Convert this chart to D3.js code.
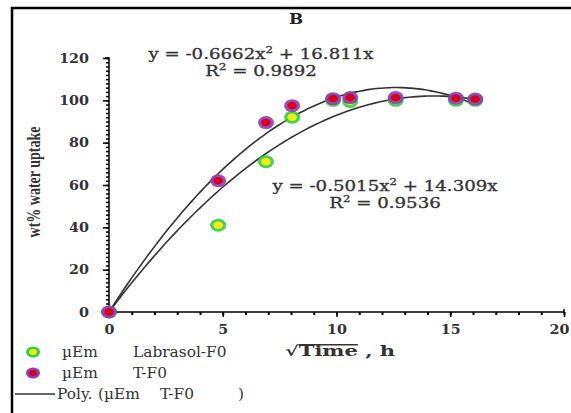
<!DOCTYPE html>
<html><head><meta charset="utf-8">
<script src="https://cdn.jsdelivr.net/npm/d3@7/dist/d3.min.js"></script>
<style>body{margin:0;background:#fff}svg{display:block}</style>
</head><body><svg id="c" width="571" height="413"></svg>
<script>
const sqrtTime = [0, 4.8, 6.9, 8.05, 9.85, 10.6, 12.6, 15.25, 16.1];
const labrasol = [0, 41, 71, 92, 100, 99.5, 100, 100, 100];
const tf0 = [0, 62, 89.5, 97.5, 100.8, 101.3, 101.3, 101, 100.6];
const fitT = [-0.6662, 16.811];   // y = a x^2 + b x
const fitL = [-0.5015, 14.309];
const xTicks = [0, 5, 10, 15, 20];
const yTicks = [0, 20, 40, 60, 80, 100, 120];

const svg = d3.select("#c");
const serif = "'DejaVu Serif','Liberation Serif',serif";
function stretch(sel, s){
  sel.each(function(){
    const t = d3.select(this);
    const x = +t.attr("x")||0, y = +t.attr("y")||0;
    t.attr("x",0).attr("y",0).attr("transform",`translate(${x},${y}) scale(${s},1)`);
  });
}
// frame
svg.append("path").attr("d","M12,420 L12,8 L580,8").attr("fill","none").attr("stroke","#000").attr("stroke-width",2.5);

const x = d3.scaleLinear().domain([0,20]).range([109,564]);
const y = d3.scaleLinear().domain([0,120]).range([312,58]);

// y axis
const ya = svg.append("g").attr("transform","translate(109,0)");
ya.call(d3.axisLeft(y).tickValues(d3.range(0,121,2)).tickSize(3).tickFormat(""));
ya.call(g=>g.select(".domain").remove());
ya.selectAll("line").attr("stroke","#000").attr("stroke-width",1.5);
const yb = svg.append("g").attr("transform","translate(109,0)");
yb.call(d3.axisLeft(y).tickValues(yTicks).tickSize(6).tickPadding(14).tickFormat(d3.format("d")));
yb.selectAll("text").attr("font-family",serif).attr("font-size",13).attr("font-weight","bold").attr("fill","#333");
stretch(yb.selectAll("text"), 1.1);
yb.selectAll("line,path").attr("stroke","#000").attr("stroke-width",1.5);
yb.select(".domain").attr("d","M-4,58H0V312");

// x axis
const xa = svg.append("g").attr("transform","translate(0,312)");
xa.call(d3.axisBottom(x).tickValues(d3.range(0,21,1)).tickSize(3).tickFormat(""));
xa.call(g=>g.select(".domain").remove());
xa.selectAll("line").attr("stroke","#000").attr("stroke-width",2);
const xb = svg.append("g").attr("transform","translate(0,312)");
xb.call(d3.axisBottom(x).tickValues(xTicks).tickSize(5).tickPadding(8).tickFormat(d3.format("d")));
xb.selectAll("text").attr("font-family",serif).attr("font-size",13).attr("font-weight","bold").attr("fill","#333")
  .attr("x", d => d === 20 ? -5 : 0);
stretch(xb.selectAll("text"), 1.1);
xb.selectAll("line,path").attr("stroke","#000").attr("stroke-width",1.5);
xb.select(".domain").attr("d","M109,0H564V-3");

// fits
function curve(c){ const pts=[]; for(let i=0;i<=80;i++){const t=16.1*i/80; pts.push([t, c[0]*t*t + c[1]*t]);} return pts; }
const line = d3.line().x(d=>x(d[0])).y(d=>y(d[1])).curve(d3.curveBasis);
[fitT, fitL].forEach(c=>{
  svg.append("path").attr("d", line(curve(c))).attr("fill","none").attr("stroke","#333").attr("stroke-width",1.6);
});

// points
function pts(vals, outer, inner){
  const g = svg.append("g");
  g.selectAll("ellipse.o").data(vals).join("ellipse").attr("cx",(d,i)=>x(sqrtTime[i])).attr("cy",d=>y(d)).attr("rx",8).attr("ry",6.5).attr("fill",outer).attr("opacity",0.9);
  g.selectAll("ellipse.i").data(vals).join("ellipse").attr("cx",(d,i)=>x(sqrtTime[i])).attr("cy",d=>y(d)).attr("rx",4.8).attr("ry",3.8).attr("fill",inner);
}
pts(labrasol, "#33cc44", "#eeee10");
pts(tf0, "#8e3cb8", "#d8001c");

// equations
function eq(cx, cy, a, b, r2){
  const t = svg.append("text").attr("x",cx).attr("y",cy).attr("text-anchor","middle").attr("font-family",serif).attr("font-size",14).attr("fill","#333").attr("stroke","#333").attr("stroke-width",0.3);
  t.append("tspan").text(`y = ${a}x`);
  t.append("tspan").text("2").attr("font-size",9).attr("dy",-6);
  t.append("tspan").text(` + ${b}x`).attr("dy",6);
  const r = svg.append("text").attr("x",cx).attr("y",cy+17).attr("text-anchor","middle").attr("font-family",serif).attr("font-size",14).attr("fill","#333").attr("stroke","#333").attr("stroke-width",0.3);
  r.append("tspan").text("R");
  r.append("tspan").text("2").attr("font-size",9).attr("dy",-6);
  r.append("tspan").text(` = ${r2}`).attr("dy",6);
  stretch(t, 1.3); stretch(r, 1.3);
}
eq(261, 59, "-0.6662", "16.811", "0.9892");
eq(385, 191, "-0.5015", "14.309", "0.9536");

// title
const ti = svg.append("text").attr("x",296).attr("y",24).attr("text-anchor","middle").attr("font-family",serif).attr("font-size",14).attr("font-weight","bold").attr("fill","#222").text("B");
stretch(ti, 1.2);

// y title
svg.append("text").attr("transform","translate(40,182) scale(1.3,1) rotate(-90)").attr("text-anchor","middle")
  .attr("font-family","'Liberation Serif','Times New Roman',serif").attr("font-size",14).attr("font-weight","bold").attr("fill","#333").text("wt% water uptake");

// x title
const xg = svg.append("g").attr("transform","translate(285,356) scale(1.5,1)");
const xt = xg.append("text").attr("x",0).attr("y",0).attr("font-family",serif).attr("font-size",14).attr("font-weight","bold").attr("fill","#333");
xt.append("tspan").text("√");
const tt = xt.append("tspan").text("Time");
xt.append("tspan").text(" , h");
const bb = tt.node().getBBox();
xg.append("line").attr("x1",bb.x).attr("x2",bb.x+bb.width).attr("y1",bb.y+2).attr("y2",bb.y+2).attr("stroke","#333").attr("stroke-width",1.5);

// legend
const legNames = [["µEm","Labrasol-F0"],["µEm","T-F0"]];
const legCols = [["#33cc44","#eeee10"],["#8e3cb8","#d8001c"]];
function ltext(x0, y0, s){
  const t = svg.append("text").attr("x",x0).attr("y",y0).attr("font-family",serif).attr("font-size",14).attr("fill","#333").text(s);
  stretch(t, 1.1);
}
legNames.forEach((l,i)=>{
  const cy = 352 + i*21;
  svg.append("ellipse").attr("cx",33).attr("cy",cy).attr("rx",7).attr("ry",5.5).attr("fill",legCols[i][0]);
  svg.append("ellipse").attr("cx",33).attr("cy",cy).attr("rx",4).attr("ry",3).attr("fill",legCols[i][1]);
  ltext(62, cy+5, l[0]);
  ltext(133, cy+5, l[1]);
});
svg.append("line").attr("x1",15).attr("x2",55).attr("y1",394).attr("y2",394).attr("stroke","#333").attr("stroke-width",1.5);
ltext(57, 399, "Poly.");
ltext(98, 399, "(µEm");
ltext(160, 399, "T-F0");
ltext(238, 399, ")");
</script></body></html>
